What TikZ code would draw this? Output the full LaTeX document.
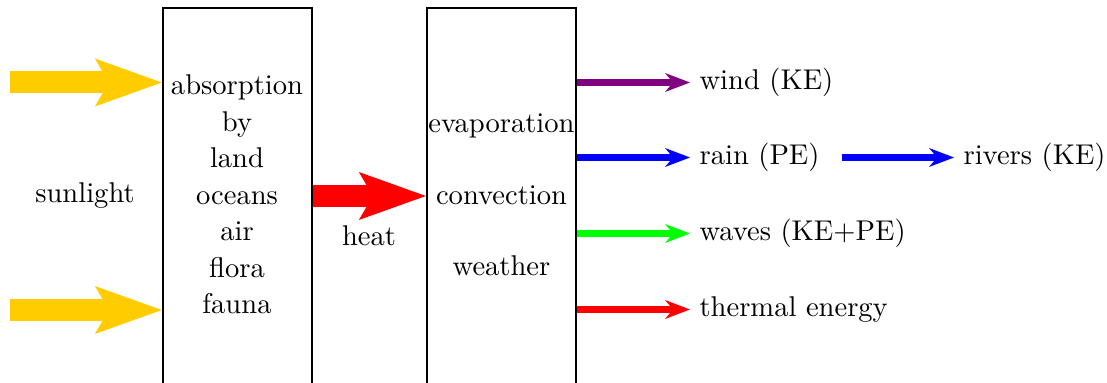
\documentclass[tikz,border=0pt]{standalone}
\usetikzlibrary{arrows.meta}
\definecolor{sunyellow}{RGB}{255,204,0}
\definecolor{windpurple}{RGB}{128,0,128}
\begin{document}
\begin{tikzpicture}[x=0.35pt,y=-0.35pt,
  stage/.style={draw,line width=0.8pt,minimum width=52.15pt,minimum height=133pt,inner sep=0pt},
  fatarrow/.style={line width=7.7pt,-{Stealth[length=23.45pt,width=16.8pt,inset=4.9pt,line width=0pt]}},
  thinarrow/.style={line width=2.45pt,-{Stealth[length=8.75pt,width=6.65pt,inset=2.8pt,line width=0pt]}},
  outlabel/.style={anchor=west,inner sep=3.15pt}]
\useasboundingbox (0,0) rectangle (1107,383);

% the two process boxes, running off the lower edge
\node[stage] (box1) at (237.5,198) {};
\node[stage] (box2) at (501.5,198) {};

% box contents
\node[align=center,font=\fontsize{10}{12.8}\selectfont] (absorb) at (237,194.5)
  {absorption\\by\\land\\oceans\\air\\flora\\fauna};
\node[align=center,font=\fontsize{10}{25}\selectfont] (weather) at (501.5,195)
  {evaporation\\convection\\weather};

% incoming sunlight
\node (sun) at (85,196) {sunlight};
\coordinate (s1) at (10,82.5);
\coordinate (s2) at (10,310);
\draw[fatarrow,sunyellow] (s1) -- (s1 -| box1.west);
\draw[fatarrow,sunyellow] (s2) -- (s2 -| box1.west);

% heat passed between the boxes
\coordinate (h) at (0,196);
\draw[fatarrow,red] (box1.east |- h) -- (box2.west |- h);
\node (heat) at (369,236) {heat};

% outputs
\node[outlabel] (wind) at (690,82.5) {wind (KE)};
\node[outlabel] (rain) at (690,157.5) {rain (PE)};
\node[outlabel] (waves) at (690,233.5) {waves (KE+PE)};
\node[outlabel] (thermal) at (690,309.5) {thermal energy};
\node[outlabel] (rivers) at (954,157.5) {rivers (KE)};

\draw[thinarrow,windpurple] (box2.east |- wind.west) -- (wind.west);
\draw[thinarrow,blue] (box2.east |- rain.west) -- (rain.west);
\draw[thinarrow,green] (box2.east |- waves.west) -- (waves.west);
\draw[thinarrow,red] (box2.east |- thermal.west) -- (thermal.west);
\draw[thinarrow,blue,shorten <=4.5pt] (rain.east) -- (rivers.west);
\end{tikzpicture}
\end{document}
